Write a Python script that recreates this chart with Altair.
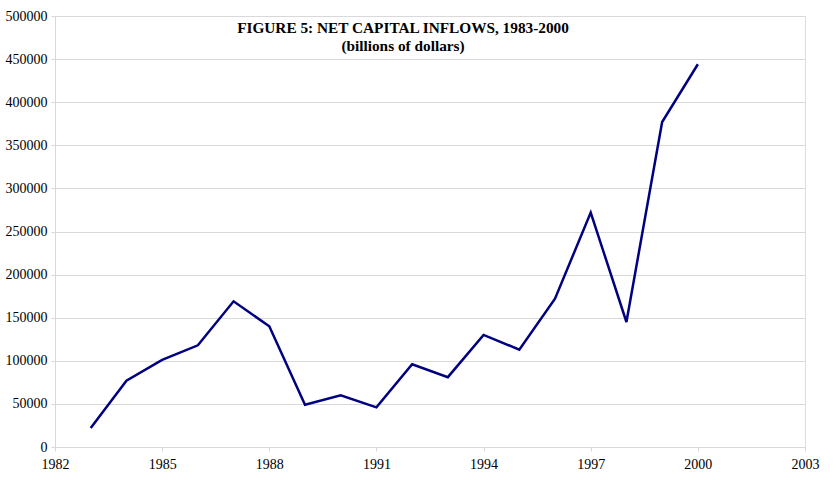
import altair as alt
import pandas as pd

years = [1983, 1984, 1985, 1986, 1987, 1988, 1989, 1990, 1991, 1992,
         1993, 1994, 1995, 1996, 1997, 1998, 1999, 2000]
inflows = [22000, 77000, 101000, 118000, 169000, 140000, 49000, 60000, 46000, 96000,
           81000, 130000, 113000, 172000, 272000, 145000, 377000, 444000]
x_ticks = [1982, 1985, 1988, 1991, 1994, 1997, 2000, 2003]
y_ticks = list(range(0, 500001, 50000))
title_lines = ["FIGURE 5: NET CAPITAL INFLOWS, 1983-2000", "(billions of dollars)"]

df = pd.DataFrame({"year": years, "value": inflows})

FONT = "Liberation Serif"
GRID = "#d9d9d9"

line = alt.Chart(df).mark_line(color="#000080", strokeWidth=2.5).encode(
    x=alt.X("year:Q",
            scale=alt.Scale(domain=[1982, 2003], nice=False, zero=False),
            axis=alt.Axis(values=x_ticks, format="d", title=None, grid=False,
                          labelFont=FONT, labelFontSize=14, labelColor="black",
                          labelFlush=False, labelOverlap=False,
                          domainColor=GRID, tickColor=GRID, tickSize=4,
                          labelPadding=6)),
    y=alt.Y("value:Q",
            scale=alt.Scale(domain=[0, 500000], nice=False),
            axis=alt.Axis(values=y_ticks, format="d", title=None, grid=True,
                          gridColor=GRID, labelFont=FONT, labelFontSize=14,
                          labelColor="black", labelFlush=False, labelOverlap=False,
                          domainColor=GRID, tickColor=GRID,
                          tickSize=4, labelPadding=4)),
)

title = alt.Chart(pd.DataFrame({"t": [title_lines]})).mark_text(
    font=FONT, fontSize=15.3, fontWeight="bold", color="black",
    align="center", baseline="top", lineHeight=18
).encode(
    text="t",
    x=alt.value(348),
    y=alt.value(5),
)

chart = alt.layer(line, title).properties(
    width=750, height=431,
    autosize=alt.AutoSizeParams(type="none"),
    padding={"left": 55, "top": 16, "right": 32, "bottom": 33},
).configure_view(stroke=None).configure(background="white").configure_axis(
    labelFont=FONT
)

chart.save("out.html", embed_options={"renderer": "svg", "actions": False})
